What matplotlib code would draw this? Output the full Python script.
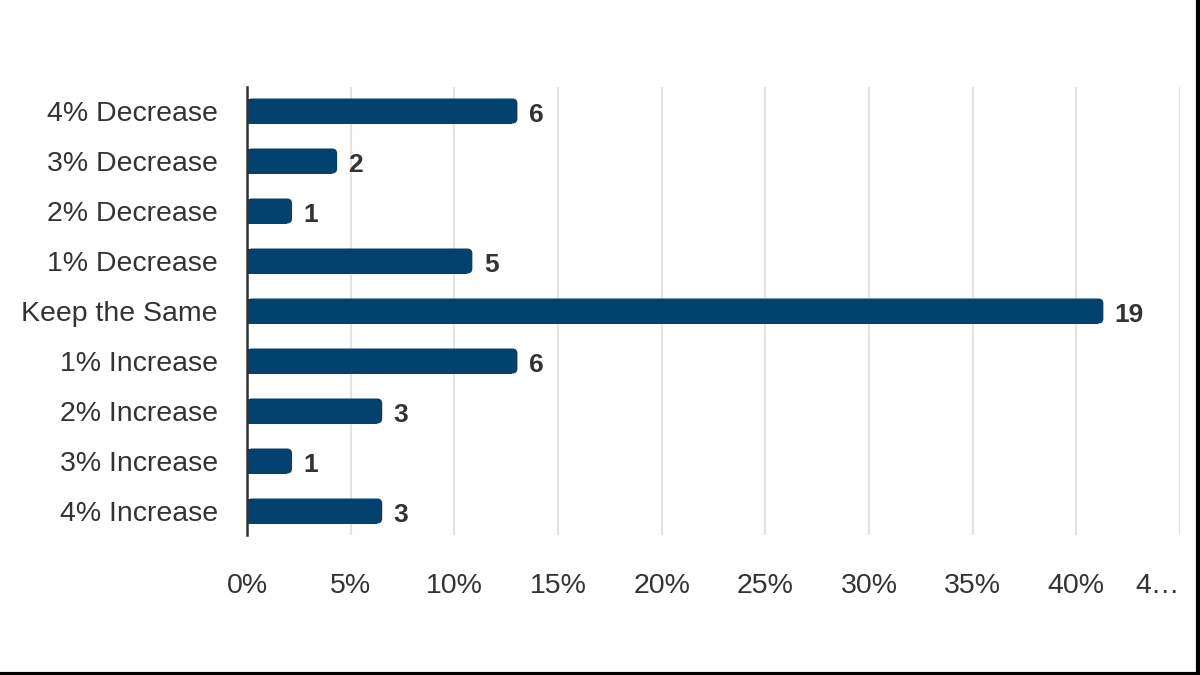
import matplotlib
matplotlib.use('Agg')
import matplotlib.pyplot as plt
from matplotlib.patches import FancyBboxPatch
from matplotlib.lines import Line2D

categories = ['4% Decrease', '3% Decrease', '2% Decrease', '1% Decrease', 'Keep the Same',
              '1% Increase', '2% Increase', '3% Increase', '4% Increase']
counts = [6, 2, 1, 5, 19, 6, 3, 1, 3]
xticks = [0, 5, 10, 15, 20, 25, 30, 35, 40, 45]
xtick_labels = ['0%', '5%', '10%', '15%', '20%', '25%', '30%', '35%', '40%', '4\u2026']

BAR_COLOR = '#03426f'
TEXT_COLOR = '#333333'

plt.rcParams['font.family'] = ['Liberation Sans', 'DejaVu Sans']

total = sum(counts)
pcts = [c / total * 100 for c in counts]

fig = plt.figure(figsize=(12, 6.75), dpi=100)
ax = fig.add_axes([247 / 1200, 1 - 535 / 675, (1180 - 247) / 1200, (535 - 87) / 675])

ax.set_xlim(0, 45)
ax.set_ylim(len(categories) - 0.52, -0.48)

# corner radius in data units (about 5 px)
rx = 5 / (ax.get_position().width * 1200) * 45
ry = 5 / (ax.get_position().height * 675) * (len(categories) - 0.04)

bars = ax.barh(range(len(categories)), pcts, height=0.5, color=BAR_COLOR, zorder=3)
for bar, c in zip(bars, counts):
    x, y = bar.get_x(), bar.get_y()
    w, h = bar.get_width(), bar.get_height()
    bar.set_width(w - rx)
    ax.add_patch(FancyBboxPatch((x, y), w, h,
                                boxstyle='round,pad=0,rounding_size=%f' % rx,
                                mutation_aspect=ry / rx,
                                facecolor=BAR_COLOR, edgecolor='none', zorder=3))
    ax.text(w + 0.55, y + h / 2 + 0.03, str(c), va='center_baseline', ha='left',
            fontsize=19, fontweight='bold', color=TEXT_COLOR, zorder=4)

ax.set_yticks(range(len(categories)))
ax.set_yticklabels(categories, fontsize=20.5, color=TEXT_COLOR)
ax.set_xticks(xticks)
ax.set_xticklabels(xtick_labels, fontsize=20.5, color=TEXT_COLOR)
ax.get_xticklabels()[-1].set_ha('right')
ax.tick_params(axis='x', length=0, pad=27.5)
ax.tick_params(axis='y', length=0, pad=21)

ax.grid(axis='x', color='#e3e3e3', linewidth=1.5, zorder=0)
for s in ['top', 'right', 'bottom']:
    ax.spines[s].set_visible(False)
ax.spines['left'].set_color(TEXT_COLOR)
ax.spines['left'].set_linewidth(1.8)
ax.spines['left'].set_zorder(5)

# frame on the right and bottom edge
fig.add_artist(Line2D([0, 1], [0.002, 0.002], transform=fig.transFigure, color='black', linewidth=3))
fig.add_artist(Line2D([0.9985, 0.9985], [0, 1], transform=fig.transFigure, color='black', linewidth=3))

fig.savefig('out.png', dpi=100)
